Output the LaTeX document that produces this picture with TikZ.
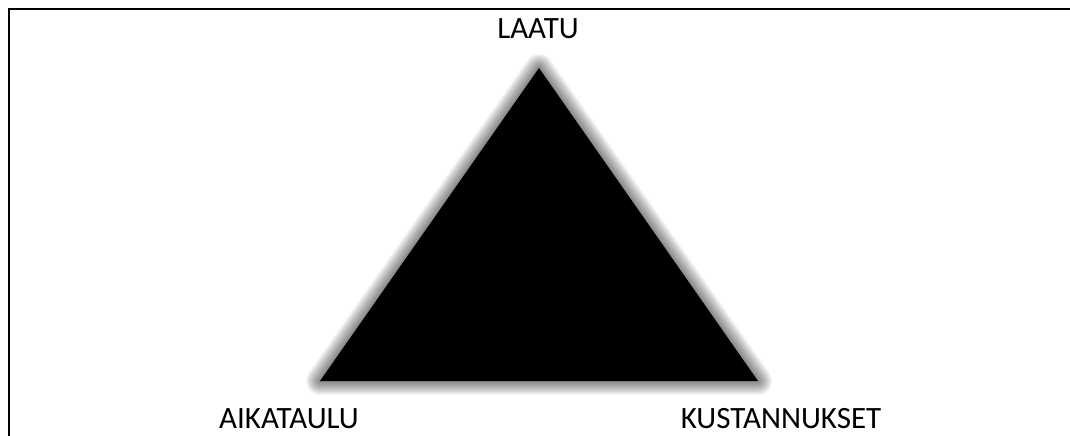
\documentclass[tikz,border=0pt]{standalone}
\usepackage{fontspec}
\setmainfont{Carlito}
\begin{document}
\begin{tikzpicture}[x=1pt,y=-1pt,
  lbl/.style={anchor=base,inner sep=0pt,font=\fontsize{31}{37}\selectfont},
  frameline/.style={line width=2pt,black}]
\useasboundingbox (0,0) rectangle (1070,436);
\fill[white] (0,0) rectangle (1070,436);
\coordinate (top) at (539,68);
\coordinate (bl) at (320,381);
\coordinate (br) at (758,381);
% soft glow shadow
\foreach \w in {2,4,...,28}{
  \draw[line width=\w pt,black,opacity=0.04,line join=round,shift={(1,2)}]
    (top) -- (bl) -- (br) -- cycle;
}
\fill[black] (top) -- (bl) -- (br) -- cycle;
% frame (top and left edges)
\draw[frameline] (9,436) -- (9,9) -- (1070,9);
% labels
\node[lbl] (laatu) at (538,39) {LAATU};
\node[lbl] (aika) at (289,428) {AIKATAULU};
\node[lbl] (kust) at (781,428) {KUSTANNUKSET};
\end{tikzpicture}
\end{document}
